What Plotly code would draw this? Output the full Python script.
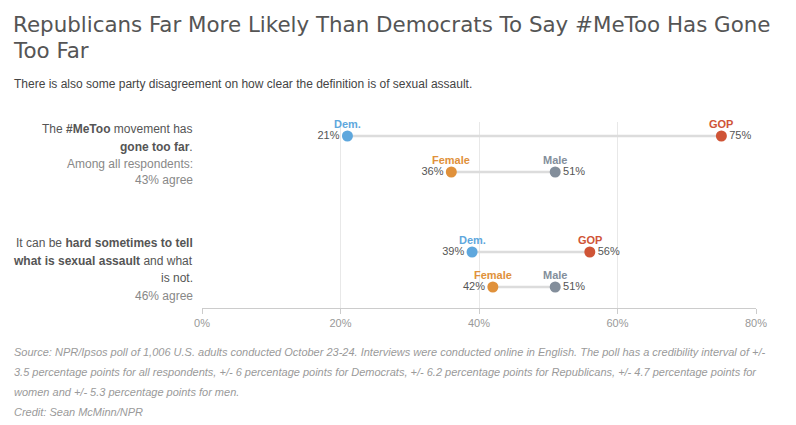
import plotly.graph_objects as go

# ---- data ----
questions = ["metoo", "assault"]
dem = [21, 39]
gop = [75, 56]
female = [36, 42]
male = [51, 51]
agree = ["43% agree", "46% agree"]
x_ticks = [0, 20, 40, 60, 80]
x_tick_labels = ["0%", "20%", "40%", "60%", "80%"]

# ---- layout helpers (pixel geometry, screen coords; page has 8px body offset) ----
OFF = 8
W, H = 796, 425
PL, PR, PT, PB = 202, 756, 122, 308

def py(ypx):
    return (PB - ypx) / (PB - PT)

def px(xpx):
    return (xpx - PL) / (PR - PL)

row_party_y = [py(136), py(252)]
row_gender_y = [py(172), py(287)]

C_DEM = "#5ea7dd"
C_GOP = "#cf5436"
C_FEM = "#e0913b"
C_MALE = "#838e9b"
C_LINE = "#dcdcdc"
C_TXT = "#555555"
FONT = "Liberation Sans, Arial, sans-serif"

fig = go.Figure()

pairs = [
    (dem, gop, row_party_y, "Dem.", "GOP", C_DEM, C_GOP),
    (female, male, row_gender_y, "Female", "Male", C_FEM, C_MALE),
]

for a_vals, b_vals, ys, a_name, b_name, ca, cb in pairs:
    for i in range(len(questions)):
        fig.add_trace(go.Scatter(
            x=[a_vals[i], b_vals[i]], y=[ys[i], ys[i]], mode="lines",
            line=dict(color=C_LINE, width=2.5), hoverinfo="skip", showlegend=False))
    for vals, name, col in ((a_vals, a_name, ca), (b_vals, b_name, cb)):
        other = b_vals if vals is a_vals else a_vals
        pos = ["middle left" if v < o else "middle right" for v, o in zip(vals, other)]
        fig.add_trace(go.Scatter(
            x=vals, y=ys, mode="markers+text",
            marker=dict(color=col, size=11),
            text=[f"{v}%" for v in vals], textposition=pos,
            textfont=dict(color=C_TXT, size=11, family=FONT),
            showlegend=False, hoverinfo="skip"))
        for v, yv in zip(vals, ys):
            fig.add_annotation(x=v, y=yv, xref="x", yref="y", text=name,
                               showarrow=False, yshift=12, xanchor="center",
                               font=dict(color=col, size=11, family=FONT, weight="bold"))

annos = []
def lab(text, ypx, color=C_TXT, size=12):
    annos.append(dict(x=px(195), y=py(ypx), xref="paper", yref="paper",
                      text=text, showarrow=False, xanchor="right", yanchor="middle",
                      align="right", font=dict(color=color, size=size, family=FONT)))

lab("The <b>#MeToo</b> movement has", 129)
lab("<b>gone too far</b>.", 147)
lab("Among all respondents:", 164, "#888888")
lab(agree[0], 180, "#888888")
lab("It can be <b>hard sometimes to tell</b>", 243)
lab("<b>what is sexual assault</b> and what", 261)
lab("is not.", 278)
lab(agree[1], 296, "#888888")

def free(text, xpx, ypx, size, color, italic=False, family=FONT):
    annos.append(dict(x=px(xpx), y=py(ypx), xref="paper", yref="paper",
                      text=(f"<i>{text}</i>" if italic else text), showarrow=False,
                      xanchor="left", yanchor="middle", align="left",
                      font=dict(color=color, size=size, family=family)))

TFONT = "DejaVu Sans, Open Sans, sans-serif"
free("Republicans Far More Likely Than Democrats To Say #MeToo Has Gone", 11, 24, 21.4, "#555555", family=TFONT)
free("Too Far", 11, 51, 21.4, "#555555", family=TFONT)
free("There is also some party disagreement on how clear the definition is of sexual assault.", 12, 84, 12, "#444444")
foot = [
    "Source: NPR/Ipsos poll of 1,006 U.S. adults conducted October 23-24. Interviews were conducted online in English. The poll has a credibility interval of +/-",
    "3.5 percentage points for all respondents, +/- 6 percentage points for Democrats, +/- 6.2 percentage points for Republicans, +/- 4.7 percentage points for",
    "women and +/- 5.3 percentage points for men.",
    "Credit: Sean McMinn/NPR",
]
for k, t in enumerate(foot):
    free(t, 12, 352 + 20 * k, 11, "#9a9a9a", italic=True)

fig.update_layout(
    width=W, height=H,
    margin=dict(l=PL - OFF, r=W - PR + OFF, t=PT - OFF, b=H - PB + OFF, pad=0),
    paper_bgcolor="white", plot_bgcolor="white",
    annotations=list(fig.layout.annotations) + annos,
    xaxis=dict(range=[0, 80], tickvals=x_ticks, ticktext=x_tick_labels,
               showgrid=True, gridcolor="#e8e8e8", gridwidth=1,
               showline=True, linecolor="#cccccc", linewidth=1,
               ticks="outside", ticklen=5, tickcolor="#cccccc",
               tickfont=dict(color="#999999", size=11, family=FONT),
               zeroline=False, fixedrange=True),
    yaxis=dict(range=[0, 1], visible=False, fixedrange=True),
    showlegend=False,
)

fig.write_html("out.html")
